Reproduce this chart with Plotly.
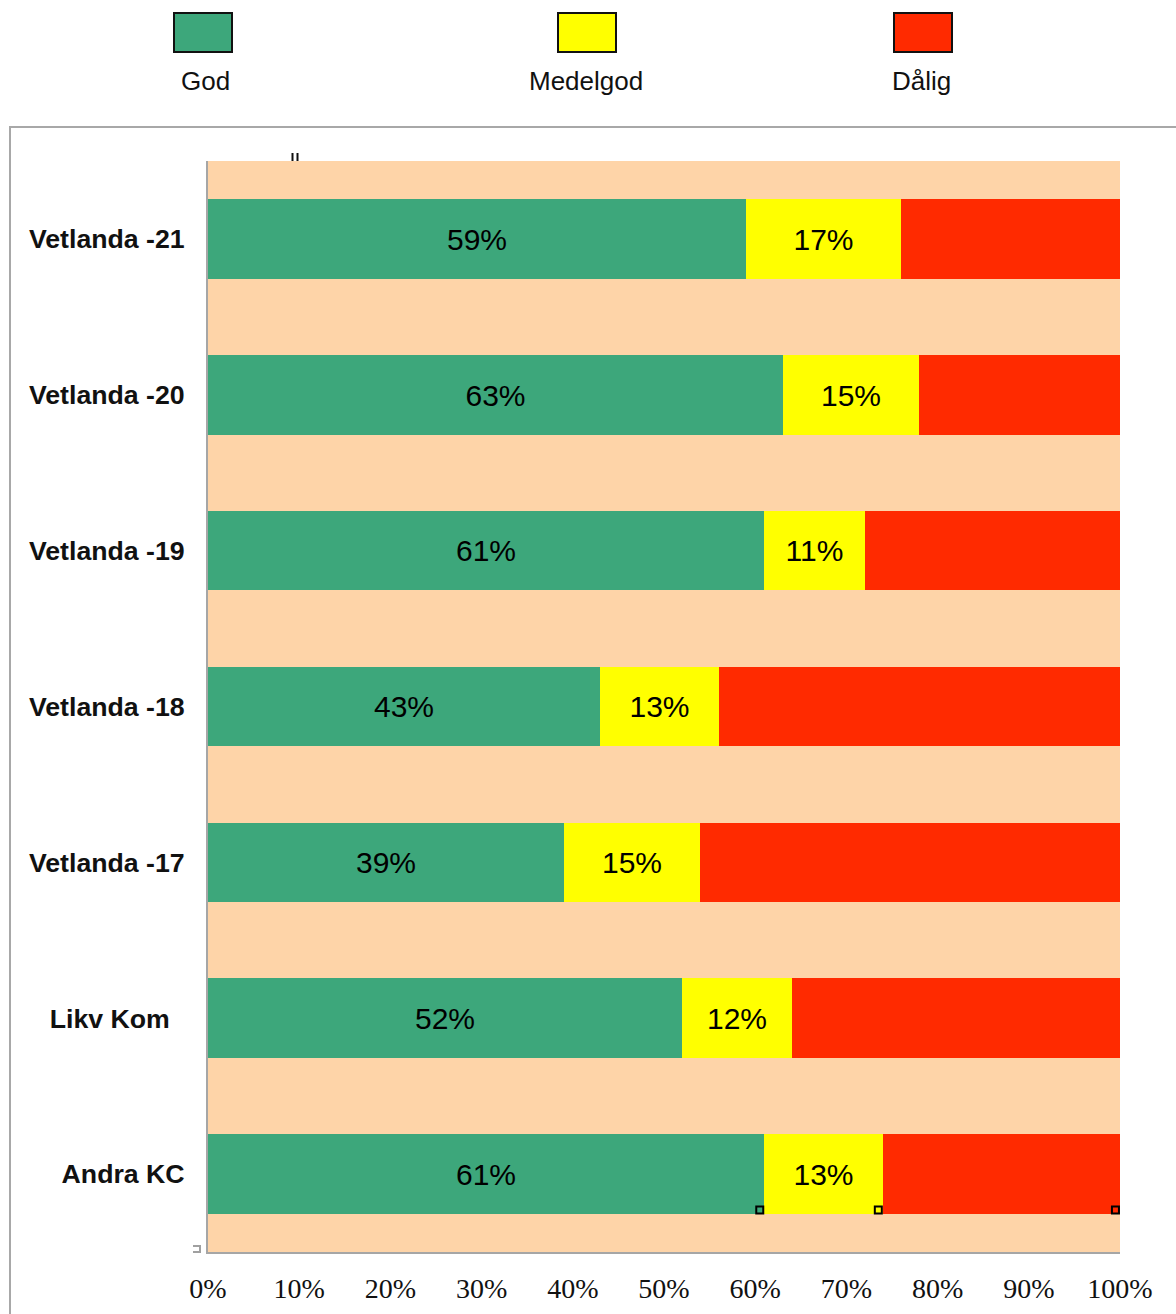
import plotly.graph_objects as go

# Survey results per group, top to bottom
categories = ["Vetlanda -21", "Vetlanda -20", "Vetlanda -19", "Vetlanda -18",
              "Vetlanda -17", "Likv Kom", "Andra KC"]
category_labels = ["Vetlanda -21", "Vetlanda -20", "Vetlanda -19", "Vetlanda -18",
                   "Vetlanda -17", "Likv Kom\u00a0\u00a0", "Andra KC"]
god = [59, 63, 61, 43, 39, 52, 61]
medelgod = [17, 15, 11, 13, 15, 12, 13]
dalig = [24, 22, 28, 44, 46, 36, 26]

series_names = ["God", "Medelgod", "Dålig"]
colors = ["#3DA77B", "#FFFF00", "#FF2A00"]

x_ticks = [0, 10, 20, 30, 40, 50, 60, 70, 80, 90, 100]
x_tick_text = [f"{v}%" for v in x_ticks]

W, H = 1176, 1314
L, R, T, B = 208, 56, 161, 62
PW, PH = W - L - R, H - T - B


def px(x):
    return (x - L) / PW


def py(y):
    return (H - B - y) / PH


ypos = list(range(len(categories)))

fig = go.Figure()
for name, vals, col, show in zip(series_names, [god, medelgod, dalig], colors,
                                 [True, True, False]):
    fig.add_trace(go.Bar(
        y=ypos, x=vals, orientation="h", name=name, width=0.51,
        marker=dict(color=col, line=dict(width=0)),
        text=[f"{v}%" for v in vals] if show else None,
        textposition="inside" if show else "none",
        insidetextanchor="middle",
        textfont=dict(family="Liberation Sans, Arial", size=30, color="#000"),
        constraintext="none",
        showlegend=False, hoverinfo="skip",
    ))

# Selection handles on the last bar's segment ends
last = len(categories) - 1
ends = [god[last], god[last] + medelgod[last], god[last] + medelgod[last] + dalig[last]]
fig.add_trace(go.Scatter(
    x=[e - 0.5 for e in ends], y=[last + 0.23] * 3, mode="markers",
    marker=dict(symbol="square-open", size=7, color="#000", line=dict(width=2)),
    showlegend=False, hoverinfo="skip", cliponaxis=False,
))

shapes = []
annotations = []

# Outer frame
shapes.append(dict(type="rect", xref="paper", yref="paper",
                   x0=px(10), x1=px(1190), y0=py(1330), y1=py(127),
                   line=dict(color="#A8A8A8", width=2), fillcolor="rgba(0,0,0,0)",
                   layer="below"))

# Legend drawn above the frame: swatch with label underneath
legend_x = [(174, 232), (558, 616), (894, 952)]
label_cx = [205, 586, 921]
for name, col, (a, b), cx in zip(series_names, colors, legend_x, label_cx):
    shapes.append(dict(type="rect", xref="paper", yref="paper",
                       x0=px(a), x1=px(b), y0=py(52), y1=py(13),
                       fillcolor=col, line=dict(color="#111", width=2)))
    annotations.append(dict(xref="paper", yref="paper", x=px(cx), y=py(81),
                            text=name, showarrow=False, xanchor="center",
                            yanchor="middle",
                            font=dict(family="Liberation Sans, Arial", size=26,
                                      color="#111")))

# Small marks near the axes
shapes.append(dict(type="line", xref="paper", yref="paper",
                   x0=px(292.5), x1=px(292.5), y0=py(161), y1=py(153),
                   line=dict(color="#111", width=2)))
shapes.append(dict(type="line", xref="paper", yref="paper",
                   x0=px(297.5), x1=px(297.5), y0=py(161), y1=py(153),
                   line=dict(color="#111", width=2)))
shapes.append(dict(type="path", xref="paper", yref="paper",
                   path=f"M {px(193)} {py(1246)} L {px(200)} {py(1246)} "
                        f"L {px(200)} {py(1252)} L {px(193)} {py(1252)}",
                   line=dict(color="#A0A0A0", width=2)))

fig.update_layout(
    width=W, height=H,
    margin=dict(l=L, r=R, t=T, b=B, pad=0),
    paper_bgcolor="#FFFFFF",
    plot_bgcolor="#FED4A8",
    barmode="stack",
    bargap=0,
    shapes=shapes,
    annotations=annotations,
    showlegend=False,
    xaxis=dict(range=[0, 100], tickvals=x_ticks, ticktext=x_tick_text,
               showgrid=False, zeroline=False, showline=True, automargin=False,
               linecolor="#A6A6A6", linewidth=2, ticks="outside", ticklen=0,
               ticklabelstandoff=10,
               tickfont=dict(family="Liberation Serif, Times New Roman", size=28,
                             color="#111")),
    yaxis=dict(range=[len(categories) - 0.5, -0.5], tickvals=ypos,
               ticktext=category_labels, showgrid=False, zeroline=False,
               showline=True, linecolor="#A6A6A6", linewidth=2, automargin=False,
               ticks="outside", ticklen=0, ticklabelstandoff=16,
               tickfont=dict(family="Liberation Sans, Arial", size=26.7,
                             color="#111", weight="bold")),
)

fig.write_html("out.html")
